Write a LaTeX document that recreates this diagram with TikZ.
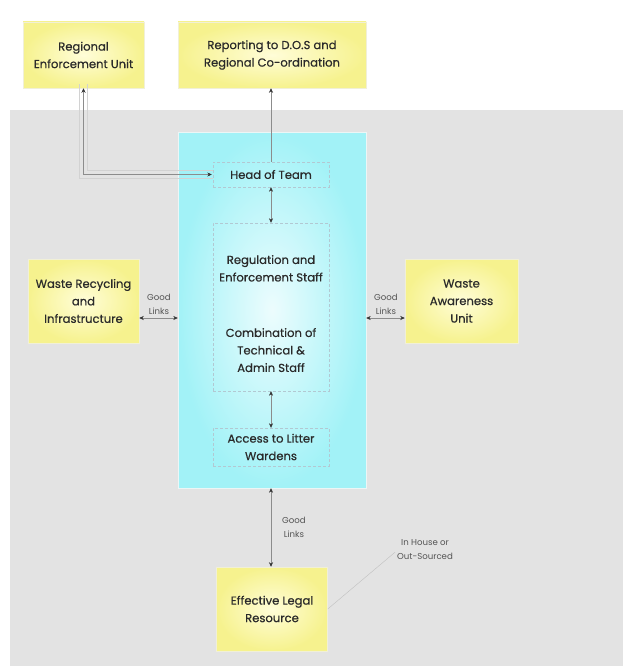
\documentclass[tikz,border=0pt]{standalone}
\usepackage{fontspec}
\setmainfont{Poppins}
\newfontfamily\bxfont{Poppins}[FakeBold=0.6]
\usetikzlibrary{arrows.meta}
\definecolor{bggrey}{HTML}{E3E3E3}
\definecolor{yel}{HTML}{F6F28E}
\definecolor{yelin}{HTML}{FFFDD8}
\definecolor{cy}{HTML}{A2F2F7}
\definecolor{txt}{HTML}{2A2A2A}
\definecolor{lnk}{HTML}{8C8C8C}
\definecolor{shad}{HTML}{D2D2D2}
\tikzset{
  mytip/.tip={Stealth[length=4.5pt,width=4pt,color=black!80]},
  ybox/.style={draw=yel!85!black!30, line width=0.5pt, shading=radial, inner color=yelin, outer color=yel, align=center, text=txt, font=\bxfont\fontsize{11.6}{17.5}\selectfont, inner sep=2pt},
  dbox/.style={draw=cyan!30!gray!55, densely dashed, line width=0.4pt, align=center, text=txt, font=\bxfont\fontsize{11.6}{17.5}\selectfont, inner sep=2pt},
  lab/.style={text=txt!80, align=center, font=\fontsize{8.6}{14}\selectfont, inner sep=0pt},
  conn/.style={draw=lnk, line width=0.45pt, {mytip}-{mytip}},
  oneway/.style={draw=lnk, line width=0.45pt, -{mytip}},
}
\begin{document}
\begin{tikzpicture}[x=1pt,y=-1pt]
\useasboundingbox (0,0) rectangle (623,666);
\fill[white] (0,0) rectangle (623,666);
\fill[bggrey] (10,110) rectangle (623,666);
% cyan panel
\node[draw=cy!80!black!15, shading=radial, inner color=cy!20, outer color=cy, minimum width=188, minimum height=356, inner sep=0pt] (cyan) at (272,310) {};
% top boxes
\node[ybox, minimum width=121, minimum height=66] (reu) at (83.5,55) {Regional\\Enforcement Unit};
\node[ybox, minimum width=188, minimum height=66] (rep) at (272,55) {Reporting to D.O.S and\\Regional Co-ordination};
% inner dashed boxes
\node[dbox, minimum width=116, minimum height=25] (head) at (271,174.5) {Head of Team};
\node[dbox, minimum width=116, minimum height=168] (reg) at (271,307) {\rule{0pt}{22pt}Regulation and\\Enforcement Staff\\[38pt]Combination of\\Technical \&\\Admin Staff};
\node[dbox, minimum width=116, minimum height=38] (acc) at (271,447) {Access to Litter\\Wardens};
% side boxes
\node[ybox, minimum width=111, minimum height=84] (wr) at (83.5,301) {Waste Recycling\\and\\Infrastructure};
\node[ybox, minimum width=113, minimum height=84] (wa) at (461.5,301) {Waste\\Awareness\\Unit};
\node[ybox, minimum width=111, minimum height=84] (elr) at (272,609) {Effective Legal\\Resource};
% labels
\node[lab] (gl1) at (159,304) {Good\\Links};
\node[lab] (gl2) at (386,304) {Good\\Links};
\node[lab] (gl3) at (294,527) {Good\\Links};
\node[lab] (ih) at (425,550) {In House or\\Out-Sourced};
\coordinate (ly) at (0,318);
% connectors
\draw[draw=shad, line width=0.4pt] ([yshift=-4pt]head.west) -| ([xshift=-4pt,yshift=4pt]reu.south);
\draw[draw=shad, line width=0.4pt] ([yshift=4pt]head.west) -| ([xshift=4pt,yshift=4pt]reu.south);
\draw[conn] ([xshift=-1pt]head.west) -| (reu.south);
\draw[oneway] (head.north) -- (head.north |- rep.south);
\draw[conn] (head.south) -- (reg.north);
\draw[conn] (reg.south) -- (acc.north);
\draw[conn] (wr.east |- ly) -- (cyan.west |- ly);
\draw[conn] (cyan.east |- ly) -- (wa.west |- ly);
\draw[conn] (cyan.south -| head.south) -- (elr.north -| head.south);
\draw[draw=lnk!55, line width=0.4pt] (elr.east) -- ([xshift=-30pt,yshift=8pt]ih.south);
\end{tikzpicture}
\end{document}
